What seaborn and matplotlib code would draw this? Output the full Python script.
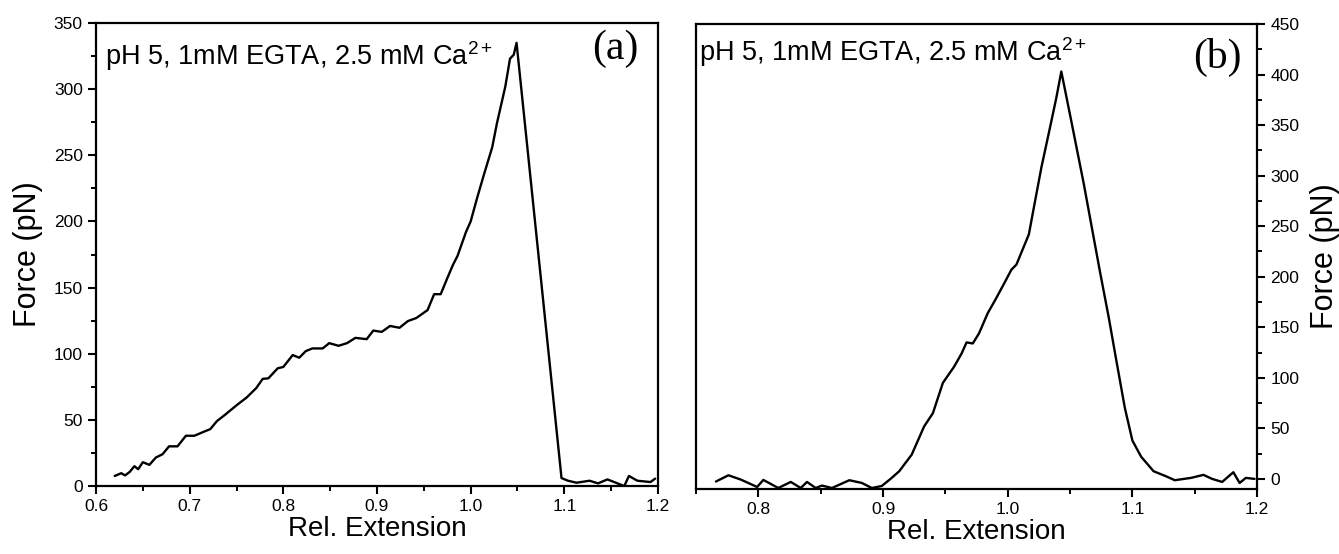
import numpy as np
import pandas as pd
import matplotlib
matplotlib.use("Agg")
import matplotlib.pyplot as plt
from matplotlib.ticker import MultipleLocator
import seaborn as sns

# ---- data ----
ext_a = [0.620, 0.627, 0.631, 0.636, 0.641, 0.645, 0.650, 0.657, 0.664, 0.671, 0.678, 0.687,
         0.696, 0.705, 0.715, 0.722, 0.729, 0.738, 0.750, 0.761, 0.771, 0.778, 0.784, 0.794,
         0.800, 0.810, 0.817, 0.824, 0.831, 0.842, 0.849, 0.859, 0.868, 0.877, 0.889, 0.896,
         0.905, 0.914, 0.924, 0.933, 0.942, 0.954, 0.961, 0.968, 0.975, 0.981, 0.986, 0.995,
         1.000, 1.007, 1.014, 1.023, 1.028, 1.037, 1.042, 1.046, 1.049, 1.097,
         1.104, 1.113, 1.127, 1.136, 1.146, 1.155, 1.164, 1.169, 1.178, 1.192, 1.197]
force_a = [7.6, 9.7, 8.0, 10.7, 15.0, 12.7, 18.0, 16.0, 21.6, 24.0, 30.0, 30.0,
           38.0, 38.0, 41.0, 43.0, 49.0, 54.0, 61.0, 67.0, 74.0, 81.0, 81.4, 89.0,
           90.0, 99.0, 97.0, 102.0, 104.0, 104.0, 108.0, 106.0, 108.0, 112.0, 111.0, 117.5,
           116.5, 121.0, 119.6, 124.7, 127.0, 133.0, 145.0, 145.0, 157.0, 167.0, 174.0, 192.0,
           200.0, 218.0, 235.0, 256.0, 274.0, 302.0, 323.0, 326.0, 335.0, 6.0,
           4.0, 2.5, 4.0, 2.0, 5.0, 2.5, 0.0, 7.6, 4.0, 3.0, 5.6]

ext_b = [0.766, 0.776, 0.786, 0.799, 0.804, 0.816, 0.826, 0.834, 0.839, 0.846, 0.851, 0.859,
         0.873, 0.883, 0.891, 0.899, 0.906, 0.913, 0.923, 0.933, 0.940, 0.948, 0.957, 0.963,
         0.967, 0.972, 0.977, 0.984, 0.990, 0.997, 1.003, 1.007, 1.017, 1.020, 1.027, 1.034,
         1.039, 1.043, 1.051, 1.061, 1.074, 1.081, 1.087, 1.094, 1.100, 1.107, 1.117, 1.127,
         1.134, 1.147, 1.157, 1.164, 1.172, 1.181, 1.186, 1.191, 1.198]
force_b = [-2.6, 3.6, -0.7, -8.0, -1.0, -9.0, -3.0, -9.0, -3.0, -9.0, -6.6, -9.0,
           -1.3, -4.0, -9.0, -7.0, 0.0, 7.6, 24.0, 52.0, 65.0, 95.0, 111.0, 124.0,
           135.0, 134.0, 144.0, 164.0, 177.0, 193.0, 207.0, 212.0, 242.0, 262.0, 308.0, 348.0,
           377.0, 403.0, 354.0, 292.0, 205.0, 160.0, 118.0, 70.0, 38.0, 22.0, 7.6, 2.6,
           -1.3, 1.0, 4.0, 0.0, -3.0, 6.6, -4.0, 1.0, 0.0]

condition = r"pH 5, 1mM EGTA, 2.5 mM Ca$^{2+}$"
panel_labels = ["(a)", "(b)"]
xlabel = "Rel. Extension"
ylabel = "Force (pN)"

# ---- style ----
sns.set_theme(style="ticks")
plt.rcParams["font.family"] = ["Liberation Sans", "DejaVu Sans"]
plt.rcParams["mathtext.fontset"] = "custom"
plt.rcParams["mathtext.rm"] = "Liberation Sans"
plt.rcParams["mathtext.it"] = "Liberation Sans"
plt.rcParams["text.color"] = "black"
plt.rcParams["axes.labelcolor"] = "black"
plt.rcParams["xtick.color"] = "black"
plt.rcParams["ytick.color"] = "black"

fig = plt.figure(figsize=(13.39, 5.54), dpi=100)
ax_a = fig.add_axes([0.0717, 0.1227, 0.4197, 0.8358])
ax_b = fig.add_axes([0.5198, 0.1173, 0.4190, 0.8394])

df_a = pd.DataFrame({"ext": ext_a, "force": force_a})
df_b = pd.DataFrame({"ext": ext_b, "force": force_b})

sns.lineplot(data=df_a, x="ext", y="force", ax=ax_a, color="black", linewidth=1.7,
             estimator=None, sort=False)
sns.lineplot(data=df_b, x="ext", y="force", ax=ax_b, color="black", linewidth=1.7,
             estimator=None, sort=False)

for ax in (ax_a, ax_b):
    for s in ax.spines.values():
        s.set_visible(True)
        s.set_linewidth(1.6)
        s.set_color("black")
    ax.xaxis.set_major_locator(MultipleLocator(0.1))
    ax.xaxis.set_minor_locator(MultipleLocator(0.05))
    ax.yaxis.set_major_locator(MultipleLocator(50))
    ax.yaxis.set_minor_locator(MultipleLocator(25))
    ax.tick_params(which="major", direction="out", length=5.5, width=1.5, labelsize=12.5,
                   pad=4)
    ax.tick_params(which="minor", direction="out", length=3.5, width=1.4)
    ax.set_xlabel(xlabel, fontsize=20, labelpad=1)

# panel a
ax_a.set_xlim(0.6, 1.2)
ax_a.set_ylim(0, 350)
ax_a.set_ylabel(ylabel, fontsize=22, labelpad=8)
ax_a.tick_params(which="both", top=False, right=False)

# panel b
ax_b.set_xlim(0.75, 1.2)
ax_b.set_ylim(-10, 450)
ax_b.yaxis.tick_right()
ax_b.yaxis.set_label_position("right")
ax_b.set_ylabel(ylabel, fontsize=22, labelpad=8, rotation=90)
ax_b.tick_params(which="both", left=False, top=False)
ax_b.tick_params(axis="y", which="both", right=True)

ax_a.text(0.016, 0.965, condition, transform=ax_a.transAxes, fontsize=19.5,
          va="top", ha="left")
ax_b.text(0.006, 0.975, condition, transform=ax_b.transAxes, fontsize=19.5,
          va="top", ha="left")

ax_a.text(0.966, 0.985, panel_labels[0], transform=ax_a.transAxes, fontsize=30,
          va="top", ha="right", family=["Liberation Serif", "DejaVu Serif"])
ax_b.text(0.972, 0.97, panel_labels[1], transform=ax_b.transAxes, fontsize=30,
          va="top", ha="right", family=["Liberation Serif", "DejaVu Serif"])

fig.savefig("out.png", dpi=100)
